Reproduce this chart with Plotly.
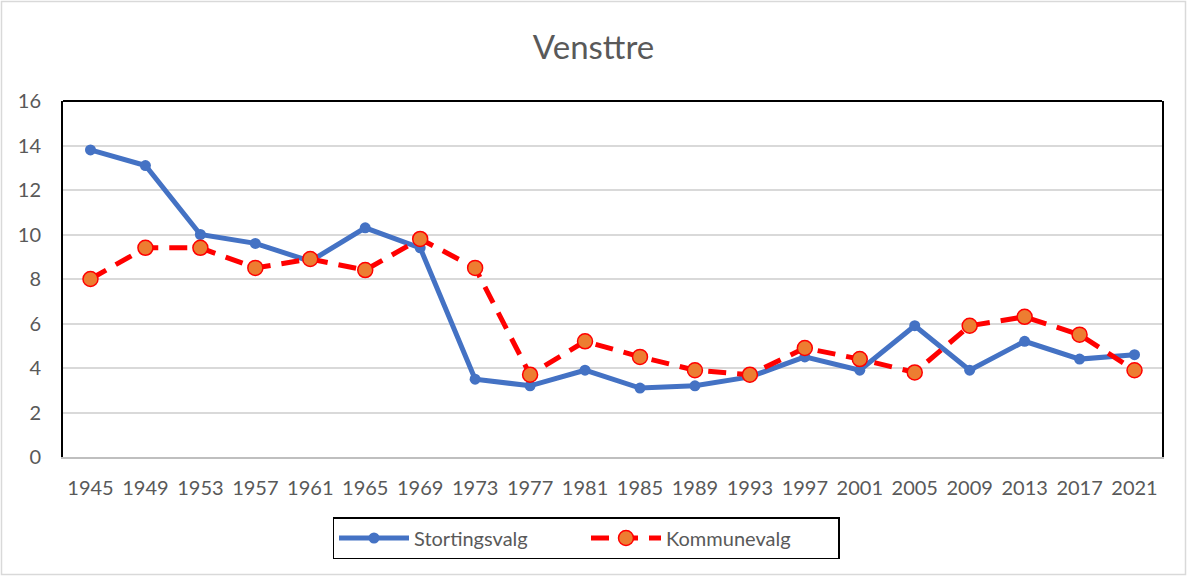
import plotly.graph_objects as go

years = ["1945","1949","1953","1957","1961","1965","1969","1973","1977","1981",
         "1985","1989","1993","1997","2001","2005","2009","2013","2017","2021"]
stortingsvalg = [13.8,13.1,10.0,9.6,8.8,10.3,9.4,3.5,3.2,3.9,3.1,3.2,3.6,4.5,3.9,5.9,3.9,5.2,4.4,4.6]
kommunevalg = [8.0,9.4,9.4,8.5,8.9,8.4,9.8,8.5,3.7,5.2,4.5,3.9,3.7,4.9,4.4,3.8,5.9,6.3,5.5,3.9]

W, H = 1187, 576
L, R, T, B = 63, 25, 101, 119
pw, ph = W - L - R, H - T - B

fig = go.Figure()
fig.add_trace(go.Scatter(
    x=years, y=stortingsvalg, name="Stortingsvalg", mode="lines+markers",
    line=dict(color="#4472C4", width=5),
    marker=dict(color="#4472C4", size=11, line=dict(width=0)),
))
fig.add_trace(go.Scatter(
    x=years, y=kommunevalg, name="Kommunevalg", mode="lines+markers",
    line=dict(color="#FF0000", width=5, dash="18px,11px"),
    marker=dict(color="#ED7D31", size=15, line=dict(color="#FF0000", width=1.5)),
))

fig.update_layout(
    width=W, height=H,
    margin=dict(l=L, r=R, t=T, b=B, autoexpand=False),
    paper_bgcolor="white", plot_bgcolor="white",
    font=dict(family="Lato, Open Sans, sans-serif", color="#595959", size=19),
    title=dict(text="Vensttre", x=0.5, xanchor="center", y=1 - 47 / H, yanchor="middle",
               font=dict(size=33, color="#595959")),
    showlegend=True,
    legend=dict(orientation="h", x=(586 - L) / pw, xanchor="center", y=-(517 - 457) / ph, yanchor="top",
                bordercolor="black", borderwidth=1.5, font=dict(size=20, color="#595959"),
                itemwidth=70, entrywidth=167, tracegroupgap=0),
    xaxis=dict(type="category", range=[-0.5, 19.5], showgrid=False, showline=True,
               linecolor="#BFBFBF", linewidth=2, ticks="", ticklabelstandoff=12,
               tickfont=dict(size=20, color="#595959"), fixedrange=True),
    yaxis=dict(range=[0, 16], dtick=2, showgrid=True, gridcolor="#D9D9D9", gridwidth=1.5,
               showline=True, linecolor="black", linewidth=2, mirror=True, zeroline=False,
               ticks="", ticklabelstandoff=16, fixedrange=True,
               tickfont=dict(size=20, color="#595959")),
)
# top black border of plot area
fig.add_shape(type="line", xref="paper", yref="paper", x0=0, x1=1, y0=1, y1=1,
              line=dict(color="black", width=2))
# outer light gray chart border
fig.add_shape(type="rect", xref="paper", yref="paper",
              x0=-(L - 1.5) / pw, x1=1 + (R - 1.5) / pw,
              y0=-(B - 1.5) / ph, y1=1 + (T - 1.5) / ph,
              line=dict(color="#D9D9D9", width=1.5))

fig.write_html("out.html", config={"displayModeBar": False},
               post_script="document.body.style.margin='0';")
